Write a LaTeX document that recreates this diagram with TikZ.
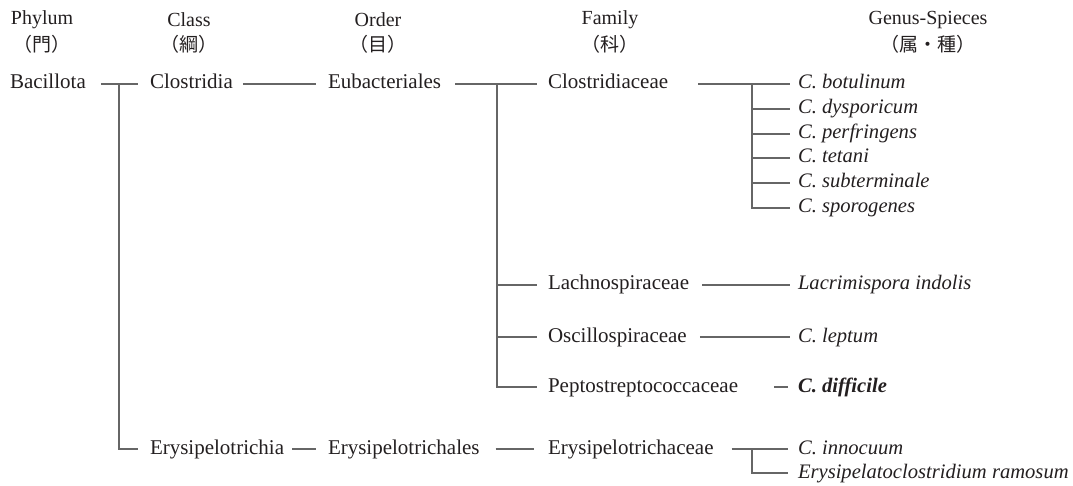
\documentclass[tikz,border=0pt]{standalone}
\usepackage{fontspec}
\setmainfont{Liberation Serif}
\newfontfamily\jpfont{Noto Sans CJK JP}
\definecolor{lnc}{HTML}{666666}
\definecolor{txc}{HTML}{231F20}
\begin{document}
\begin{tikzpicture}[x=1pt,y=-1pt,
  tx/.style={anchor=west,inner sep=0pt,outer sep=0pt,text=txc,
    font=\fontsize{21}{25}\selectfont,text height=14pt,text depth=4pt},
  sp/.style={tx,font=\fontsize{20.6}{25}\selectfont\itshape},
  spb/.style={tx,font=\fontsize{20.6}{25}\selectfont\bfseries\itshape},
  hd/.style={anchor=center,inner sep=0pt,text=txc,font=\fontsize{20}{24}\selectfont},
  hdj/.style={anchor=center,inner sep=0pt,text=txc,font=\fontsize{19}{24}\selectfont\jpfont},
  ln/.style={draw=lnc,line width=1.2pt}]
\useasboundingbox (0,0) rectangle (1073,486);
% headers
\node[hd]  (hP)  at (42,20)  {Phylum};
\node[hdj] (hPj) at (42,44)  {（門）};
\node[hd]  (hC)  at (189,20) {Class};
\node[hdj] (hCj) at (189,44) {（綱）};
\node[hd]  (hO)  at (378,20) {Order};
\node[hdj] (hOj) at (378,44) {（目）};
\node[hd]  (hF)  at (610,20) {Family};
\node[hdj] (hFj) at (610,44) {（科）};
\node[hd]  (hG)  at (928,20) {Genus-Spieces};
\node[hdj] (hGj) at (928,44) {（属・種）};
% taxa
\node[tx] (bac) at (10,84)  {Bacillota};
\node[tx] (clo) at (150,84) {Clostridia};
\node[tx] (eub) at (328,84) {Eubacteriales};
\node[tx] (cla) at (548,84) {Clostridiaceae};
\node[sp] (s1) at (798,84)  {C. botulinum};
\node[sp] (s2) at (798,109) {C. dysporicum};
\node[sp] (s3) at (798,134) {C. perfringens};
\node[sp] (s4) at (798,158) {C. tetani};
\node[sp] (s5) at (798,183) {C. subterminale};
\node[sp] (s6) at (798,208) {C. sporogenes};
\node[tx] (lac) at (548,285) {Lachnospiraceae};
\node[sp] (lai) at (798,285) {Lacrimispora indolis};
\node[tx] (osc) at (548,337) {Oscillospiraceae};
\node[sp] (lep) at (798,337) {C. leptum};
\node[tx] (pep) at (548,387) {Peptostreptococcaceae};
\node[spb] (dif) at (798,387) {C. difficile};
\node[tx] (eri) at (150,449) {Erysipelotrichia};
\node[tx] (erl) at (328,449) {Erysipelotrichales};
\node[tx] (erc) at (548,449) {Erysipelotrichaceae};
\node[sp] (inn) at (798,449) {C. innocuum};
\node[sp] (ram) at (798,473) {Erysipelatoclostridium ramosum};
% junctions
\coordinate (j1) at (119,84);
\coordinate (j2) at (497,84);
\coordinate (j3) at (752,84);
\coordinate (j4) at (752,449);
% connectors
\draw[ln] ([xshift=15pt]bac.east) -- ([xshift=-12pt]clo.west);
\draw[ln] (j1) |- ([xshift=-12pt]eri.west);
\draw[ln] ([xshift=10pt]clo.east) -- ([xshift=-12pt]eub.west);
\draw[ln] ([xshift=14pt]eub.east) -- ([xshift=-11pt]cla.west);
\draw[ln] (j2) |- ([xshift=-11pt]pep.west);
\draw[ln] (j2 |- lac.west) -- ([xshift=-11pt]lac.west);
\draw[ln] (j2 |- osc.west) -- ([xshift=-11pt]osc.west);
\draw[ln] ([xshift=30pt]cla.east) -- ([xshift=-8pt]s1.west);
\draw[ln] (j3) |- ([xshift=-8pt]s6.west);
\draw[ln] (j3 |- s2.west) -- ([xshift=-8pt]s2.west);
\draw[ln] (j3 |- s3.west) -- ([xshift=-8pt]s3.west);
\draw[ln] (j3 |- s4.west) -- ([xshift=-8pt]s4.west);
\draw[ln] (j3 |- s5.west) -- ([xshift=-8pt]s5.west);
\draw[ln] ([xshift=13pt]lac.east) -- ([xshift=-8pt]lai.west);
\draw[ln] ([xshift=13pt]osc.east) -- ([xshift=-8pt]lep.west);
\draw[ln] ([xshift=-24pt]dif.west) -- ([xshift=-10pt]dif.west);
\draw[ln] ([xshift=8pt]eri.east) -- ([xshift=-12pt]erl.west);
\draw[ln] ([xshift=16pt]erl.east) -- ([xshift=-14pt]erc.west);
\draw[ln] ([xshift=18pt]erc.east) -- ([xshift=-10pt]inn.west);
\draw[ln] (j4) |- ([xshift=-10pt]ram.west);
\end{tikzpicture}
\end{document}
